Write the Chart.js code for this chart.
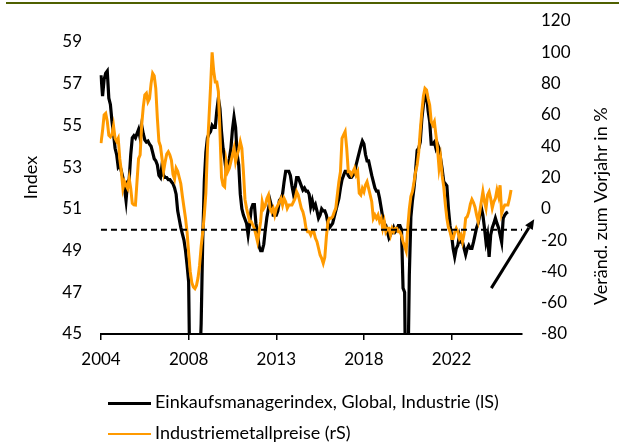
<!DOCTYPE html>
<html>
<head>
<meta charset="utf-8">
<script src="https://cdn.jsdelivr.net/npm/chart.js@4.4.1/dist/chart.umd.min.js"></script>
<style>
    body { margin: 0; background: #fff; font-family: Lato, sans-serif; }
    #page { position: relative; width: 619px; height: 446px; overflow: hidden; }
    #topBar { position: absolute; left: 6px; top: 2px; width: 613px; height: 2px; background: #4f6000; }
    #chartArea { position: absolute; left: 0; top: 0; }
    .legendItem { position: absolute; left: 108px; height: 22px; line-height: 22px; font-size: 18px; color: #000; white-space: nowrap; }
    .legendItem span { display: inline-block; width: 43px; vertical-align: middle; margin-right: 4px; }
</style>
</head>
<body>
<div id="page">
    <div id="topBar"></div>
    <canvas id="chartArea" width="619" height="446"></canvas>
    <div class="legendItem" style="top:390px"><span style="height:3px;background:#000"></span>Einkaufsmanagerindex, Global, Industrie (lS)</div>
    <div class="legendItem" style="top:421px"><span style="height:2px;background:#ff9a00"></span>Industriemetallpreise (rS)</div>
</div>
<script>
// monthly data, starting January 2004
var startYear = 2004;
var monthCount = 270;
var xTickIndex = [0, 56, 112, 168, 224];
var leftTicks = [45, 47, 49, 51, 53, 55, 57, 59];
var threshold = 50;
var arrowFrom = [249.4, 47.2];
var arrowTo = [276.8, 50.5];

// Einkaufsmanagerindex, Global, Industrie (linke Skala)
var pmiIndex = [
    57.4, 56.4, 57.2, 57.5, 57.6, 56.3, 56.0, 55.2, 54.6, 53.9, 53.6, 53.0,
    53.1, 52.8, 52.5, 52.0, 51.4, 52.3, 52.4, 53.6, 54.4, 54.5, 54.4, 54.6,
    54.8, 54.4, 55.0, 54.6, 54.3, 54.2, 54.25, 54.1, 54.0, 53.7, 53.4, 53.3,
    53.1, 52.6, 52.5, 53.1, 52.6, 52.5, 52.5, 52.4, 52.4, 52.3, 52.2, 52.0,
    51.7, 50.9, 50.5, 50.1, 49.8, 49.5, 49.0, 48.3, 47.5, 41.5, 37.0, 33.7,
    34.9, 35.9, 39.6, 43.4, 45.5, 49.5, 52.3, 53.7, 54.4, 54.6, 54.7, 55.0,
    54.9, 54.9, 55.7, 56.3, 55.8, 54.7, 53.9, 53.4, 52.8, 53.0, 53.4, 53.9,
    54.8, 55.4, 54.9, 53.6, 53.1, 51.7, 51.0, 50.7, 50.5, 50.3, 49.75, 50.3,
    51.0, 51.2, 51.2, 50.3, 49.8, 49.2, 49.0, 49.0, 49.3, 50.0, 50.6, 51.0,
    51.4, 51.1, 50.7, 50.7, 50.7, 50.9, 51.4, 51.5, 51.7, 52.3, 52.8, 52.8,
    52.8, 52.6, 52.1, 51.7, 52.0, 52.5, 52.5, 52.3, 52.1, 51.9, 52.0, 51.85,
    51.85, 51.7, 51.1, 51.4, 51.05, 51.2, 50.9, 50.55, 50.7, 51.0, 50.9, 50.9,
    50.7, 50.3, 50.1, 50.2, 50.3, 50.6, 50.9, 51.2, 51.5, 52.0, 52.4, 52.6,
    52.8, 52.8, 52.6, 52.5, 52.5, 52.6, 52.7, 53.1, 53.4, 53.7, 54.0, 54.25,
    54.1, 53.6, 53.3, 53.3, 52.95, 52.6, 52.3, 52.0, 51.85, 51.85, 51.5, 51.05,
    50.6, 50.3, 50.2, 49.9, 49.6, 49.75, 49.9, 50.1, 49.9, 50.0, 50.2, 50.2,
    50.0, 47.2, 47.0, 39.6, 42.4, 47.8, 50.6, 51.4, 52.0, 52.8, 53.8, 53.9,
    54.2, 55.3, 56.0, 56.4, 56.5, 55.7, 55.2, 54.1, 54.1, 54.2, 53.9, 54.1,
    53.9, 53.4, 52.9, 52.3, 52.2, 52.1, 51.0, 50.2, 49.75, 49.1, 48.7, 49.1,
    49.25, 49.7, 49.4, 49.4, 49.1, 48.8, 49.1, 49.25, 49.1, 49.1, 49.4, 49.75,
    50.1, 50.3, 50.7, 51.05, 50.7, 50.1, 49.4, 49.75, 48.7, 49.75, 50.1, 50.3,
    50.55, 50.3, 50.1, 49.75, 49.4, 50.55, 50.7, 50.8, 50.85
];

// Industriemetallpreise, Veränderung zum Vorjahr in % (rechte Skala)
var metalYoY = [
    42, 50, 60, 61, 56, 47, 46, 47.5, 53, 45, 43, 45,
    32, 24, 13, 17.4, 15, 13, 19.5, 13, 3.5, 2.5, 2.4, 17.4,
    32, 34.4, 53.5, 65, 72.7, 73.8, 68.4, 70.5, 80, 86.6, 85, 77,
    58, 43, 40, 32, 24, 30, 35, 36.5, 34.4, 31, 22, 19,
    26, 24, 20, 16, 8, 1, -6, -15, -28, -40, -47, -50,
    -51, -49, -44, -36, -24, -15, -4, 10, 38, 58, 78, 100,
    88, 81, 81, 75, 49, 20, 15, 14, 30, 23.7, 25.9, 30.1,
    34.4, 38.7, 30.1, 34.4, 38, 42.9, 38.7, 23.7, 6, 0.3, -4, -8.2,
    -8.2, -10.4, -12.5, -16.7, -21, -14.6, -8.2, 4.5, 0.3, 2, 6.6, 8.8,
    0.3, -1.9, 0.3, -4, 0.3, 2.4, 4.5, 6.6, 2.4, 6.6, 4.5, 0.3,
    2.4, 2.4, 2.4, 4.5, 6.6, 10.9, 8.8, 4.5, 0.3, -1.9, -6.1, -12.5,
    -14.6, -14.6, -16.7, -14, -14.6, -18.8, -21, -25.2, -29.5, -31.6, -34.8, -31,
    -18, -8.2, -6.1, -6.1, -5, -2, 0.3, 8.8, 17.3, 23.7, 45, 47.2,
    49.3, 38.7, 23.7, 23.7, 21.6, 23.7, 25.9, 21.6, 23.7, 10, 8.8, 13.1,
    10.9, 15.2, 17.3, 13.1, 8.8, 4.5, -6.1, -4, -6.1, -4, -8.2, -6.1,
    -12.5, -8.2, -14.6, -12.5, -12.5, -16.7, -12.5, -14.6, -12.5, -12.5, -14.6, -14.6,
    -17, -21, -24, -27, -12, 0, 8, 11, 17, 23.7, 28, 36,
    50, 62, 72, 77, 76, 70.6, 66.3, 55.7, 53.5, 55.7, 47.2, 38.7,
    25.9, 32.3, 21, 14, 3, -6, -12, -14.6, -19, -19, -15, -12.5,
    -14.6, -18.8, -16.7, -21, -16, -6, -5, -2, 3, 6, 4, 1,
    -4, -8, -2, 4.5, 10.9, 4.5, 0.3, 8.8, 10.9, 6.6, 0.5, 4.5,
    6.6, 12, 8, 15, -3, 0.3, 2.4, 2.4, 2.4, 6.6, 12
];

var monthLabels = [];
for (var i = 0; i < monthCount; i++) {
    var mm = i % 12 + 1;
    monthLabels.push((startYear + Math.floor(i / 12)) + '-' + (mm < 10 ? '0' + mm : mm));
}

var tickFont = { family: 'Lato', size: 17 };

// y axes: fixed width, no extra top/bottom room for the tick labels
function fitYAxis(width) {
    return function (scale) {
        scale.width = width;
        scale.paddingTop = 0;
        scale.paddingBottom = 0;
    };
}

var extras = {
    id: 'extras',
    afterDatasetsDraw: function (chart) {
        var c = chart.ctx, area = chart.chartArea;
        var y = chart.scales.yL.getPixelForValue(threshold);
        c.save();
        c.strokeStyle = '#000';
        c.lineWidth = 2;
        c.setLineDash([6, 4]);
        c.beginPath();
        c.moveTo(area.left, y);
        c.lineTo(area.right, y);
        c.stroke();
        c.restore();
    },
    afterDraw: function (chart) {
        var c = chart.ctx, area = chart.chartArea;
        var xs = chart.scales.x, yl = chart.scales.yL;
        c.save();
        c.fillStyle = '#000';
        c.font = '18px Lato';
        c.textAlign = 'center';
        c.textBaseline = 'middle';
        c.translate(31, (area.top + area.bottom) / 2);
        c.rotate(-Math.PI / 2);
        c.fillText('Index', 0, 0);
        c.restore();

        // right title reads bottom to top, starting near the -60 tick
        c.save();
        c.fillStyle = '#000';
        c.font = '18px Lato';
        c.textAlign = 'left';
        c.textBaseline = 'middle';
        c.translate(601, area.bottom - 29);
        c.rotate(-Math.PI / 2);
        c.fillText('Veränd. zum Vorjahr in %', 0, 0);
        c.restore();

        // arrow
        var x0 = xs.getPixelForValue(arrowFrom[0]), y0 = yl.getPixelForValue(arrowFrom[1]);
        var x1 = xs.getPixelForValue(arrowTo[0]), y1 = yl.getPixelForValue(arrowTo[1]);
        var ang = Math.atan2(y1 - y0, x1 - x0);
        var hl = 10, hw = 4.5;
        var bx = x1 - hl * Math.cos(ang), by = y1 - hl * Math.sin(ang);
        c.save();
        c.strokeStyle = '#000';
        c.fillStyle = '#000';
        c.lineWidth = 3;
        c.beginPath();
        c.moveTo(x0, y0);
        c.lineTo(bx, by);
        c.stroke();
        c.beginPath();
        c.moveTo(x1, y1);
        c.lineTo(bx + hw * Math.sin(ang), by - hw * Math.cos(ang));
        c.lineTo(bx - hw * Math.sin(ang), by + hw * Math.cos(ang));
        c.closePath();
        c.fill();
        c.restore();
    }
};

var ctx = document.getElementById('chartArea').getContext('2d');
var myChart = new Chart(ctx, {
    type: 'line',
    data: {
        labels: monthLabels,
        datasets: [{
            label: 'Einkaufsmanagerindex, Global, Industrie (lS)',
            data: pmiIndex,
            yAxisID: 'yL',
            borderColor: '#000',
            borderWidth: 3.2,
            pointRadius: 0,
            tension: 0,
            order: 1
        }, {
            label: 'Industriemetallpreise (rS)',
            data: metalYoY,
            yAxisID: 'yR',
            borderColor: '#ff9a00',
            borderWidth: 3,
            pointRadius: 0,
            tension: 0,
            order: 0
        }]
    },
    options: {
        responsive: false,
        animation: false,
        layout: { padding: { top: 21, left: 0, right: 0, bottom: 0 } },
        plugins: {
            legend: { display: false },
            tooltip: { enabled: false }
        },
        scales: {
            x: {
                offset: false,
                grid: { drawOnChartArea: false, drawTicks: true, tickLength: 6, color: '#000', lineWidth: 1.5 },
                border: { display: true, color: '#000', width: 2 },
                ticks: {
                    autoSkip: false,
                    maxRotation: 0,
                    padding: 9,
                    color: '#000',
                    font: tickFont,
                    callback: function (value) {
                        return this.getLabelForValue(value).slice(0, 4);
                    }
                },
                afterBuildTicks: function (scale) {
                    scale.ticks = xTickIndex.map(function (v) { return { value: v }; });
                },
                afterFit: function (scale) { scale.height = 112; }
            },
            yL: {
                position: 'left',
                min: 45,
                max: 60,
                grid: { display: false, drawTicks: false },
                border: { display: false },
                ticks: { padding: 19, color: '#000', font: tickFont },
                afterBuildTicks: function (scale) {
                    scale.ticks = leftTicks.map(function (v) { return { value: v }; });
                },
                afterFit: fitYAxis(101)
            },
            yR: {
                position: 'right',
                min: -80,
                max: 120,
                grid: { display: false, drawTicks: false },
                border: { display: false },
                ticks: { stepSize: 20, padding: 19, color: '#000', font: tickFont },
                afterFit: fitYAxis(97)
            }
        }
    },
    plugins: [extras]
});
</script>
</body>
</html>
